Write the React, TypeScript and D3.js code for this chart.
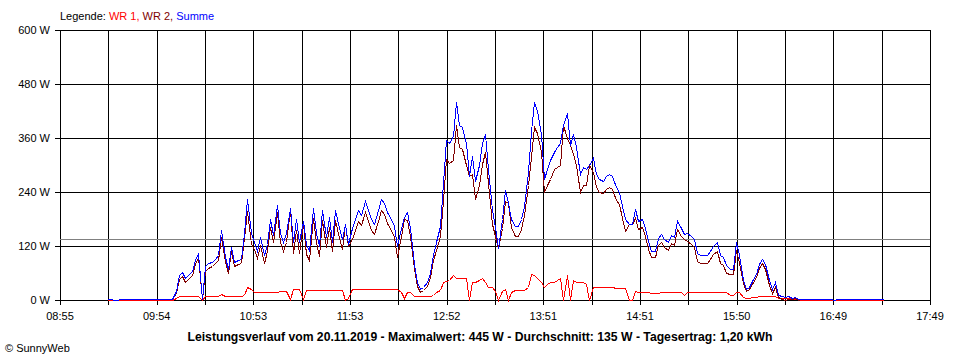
import React from "react";
import * as d3 from "d3";

// time axis: first and last grid label (minutes since midnight) and number of grid steps
const axisStart = 8 * 60 + 55;
const axisEnd = 17 * 60 + 49;
const gridSteps = 18;
const xTickLabels = ["08:55", "09:54", "10:53", "11:53", "12:52", "13:51", "14:51", "15:50", "16:49", "17:49"];
const yTicks = [0, 120, 240, 360, 480, 600];

// samples every 2 minutes starting 09:24
const sampleStart = 9 * 60 + 24;
const sampleStep = 2;

const seriesNames = ["WR 1", "WR 2", "Summe"];

const wr1 = [
  0, 0, 0, 0, 0, 0, 0, 0, 0, 0, 0, 0, 0, 0, 0, 0, 0, 0, 0, 0, 0,
  5, 9, 9, 9, 9, 9, 9, 9, 0, 10,
  10, 10, 10, 10, 14, 10, 10, 10, 10, 10,
  10, 12, 28, 25, 17, 17, 17, 17, 17, 17,
  17, 17, 20, 20, 20, 3, 25, 25, 25, 3,
  22, 22, 22, 22, 22, 22, 22, 22, 22, 22,
  22, 22, 0, 5, 24, 24, 24, 24, 24, 24,
  24, 24, 24, 24, 24, 24, 24, 24, 24, 18,
  5, 18, 18, 8, 8, 8, 8, 8, 8, 12,
  18, 22, 40, 42, 45, 55, 50, 50, 50, 50,
  0, 40, 40, 45, 48, 40, 30, 30, 20, 0,
  20, 25, 0, 18, 22, 22, 22, 22, 30, 58,
  55, 48, 40, 30, 35, 40, 40, 45, 50, 0,
  55, 0, 45, 40, 40, 40, 35, 0, 30, 28,
  28, 28, 28, 28, 28, 27, 27, 27, 27, 0,
  0, 20, 18, 18, 18, 18, 15, 15, 15, 18,
  18, 18, 18, 18, 18, 18, 12, 18, 18, 18,
  18, 18, 18, 18, 18, 18, 18, 18, 18, 18,
  12, 12, 18, 18, 7, 5, 5, 6, 7, 8,
  10, 10, 10, 10, 10, 5, 5, 5, 5, 2,
  2, 2, 0, 0, 0, 0, 0, 0, 0, 0,
  0, 0, 0, 0, 0, 0, 0, 0, 0, 0,
  0, 0, 0, 0, 0, 0, 0, 0,
];

const wr2 = [
  2, 2, 0, 0, 2, 2, 2, 2, 2, 2, 2, 2, 2, 2, 2, 2, 2, 2, 2, 2, 2,
  15, 46, 53, 41, 49, 56, 79, 96, 3, 65,
  72, 75, 82, 90, 141, 85, 60, 108, 75, 80,
  82, 138, 197, 125, 113, 93, 123, 83, 108, 163,
  128, 195, 130, 110, 130, 202, 105, 155, 105, 172,
  103, 88, 183, 128, 98, 178, 118, 163, 108, 178,
  138, 113, 170, 120, 136, 156, 176, 166, 196, 176,
  156, 146, 176, 201, 191, 171, 156, 141, 96, 142,
  180, 177, 142, 72, 32, 17, 22, 32, 52, 88,
  112, 143, 220, 313, 305, 310, 390, 340, 335, 300,
  275, 280, 225, 255, 302, 330, 260, 170, 142, 115,
  160, 220, 215, 162, 143, 143, 158, 188, 255, 317,
  385, 372, 330, 240, 255, 270, 290, 295, 300, 390,
  360, 345, 325, 300, 240, 255, 255, 300, 285, 252,
  240, 237, 247, 252, 247, 223, 213, 183, 153, 170,
  170, 182, 157, 162, 142, 114, 95, 95, 123, 128,
  117, 112, 127, 122, 157, 142, 135, 132, 124, 117,
  86, 82, 82, 82, 92, 102, 110, 82, 77, 60,
  58, 58, 112, 82, 38, 20, 25, 36, 51, 72,
  82, 70, 34, 15, 30, 7, 3, 1, 3, 3,
  5, 1, 2, 2, 2, 3, 2, 2, 2, 2,
  2, 2, 0, 2, 2, 2, 3, 2, 2, 2,
  2, 2, 2, 2, 2, 2, 2, 2,
];

const summe = [
  2, 2, 0, 0, 2, 2, 2, 2, 2, 2, 2, 2, 2, 2, 2, 2, 2, 2, 2, 2, 2,
  20, 55, 62, 50, 58, 65, 88, 105, 3, 75,
  82, 85, 92, 100, 155, 95, 70, 118, 85, 90,
  92, 150, 225, 150, 130, 110, 140, 100, 125, 180,
  145, 212, 150, 130, 150, 205, 130, 180, 130, 175,
  125, 110, 205, 150, 120, 200, 140, 185, 130, 200,
  160, 135, 170, 125, 160, 180, 200, 190, 220, 200,
  180, 170, 200, 225, 215, 195, 180, 165, 120, 160,
  185, 195, 160, 80, 40, 25, 30, 40, 60, 100,
  130, 165, 260, 355, 350, 365, 440, 390, 385, 350,
  275, 320, 265, 300, 350, 370, 290, 200, 162, 115,
  180, 245, 215, 180, 165, 165, 180, 210, 285, 375,
  440, 420, 370, 270, 290, 310, 330, 340, 350, 390,
  415, 345, 370, 340, 280, 295, 290, 300, 315, 280,
  268, 265, 275, 280, 275, 250, 240, 210, 180, 170,
  170, 202, 175, 180, 160, 132, 110, 110, 138, 146,
  135, 130, 145, 140, 175, 160, 147, 150, 142, 135,
  104, 100, 100, 100, 110, 120, 128, 100, 95, 78,
  70, 70, 130, 100, 45, 25, 30, 42, 58, 80,
  92, 80, 44, 25, 40, 12, 8, 6, 8, 5,
  7, 3, 2, 2, 2, 3, 2, 2, 2, 2,
  2, 2, 0, 2, 2, 2, 3, 2, 2, 2,
  2, 2, 2, 2, 2, 2, 2, 2,
];

const average = 135;
const title = "Leistungsverlauf vom 20.11.2019 - Maximalwert: 445 W - Durchschnitt: 135 W - Tagesertrag: 1,20 kWh";

const colors = ["#ff0000", "#800000", "#0000ff"];
const font = "'Liberation Sans', Arial, sans-serif";

export default function App() {
  const width = 960;
  const height = 360;
  const margin = { top: 30, right: 30, bottom: 60, left: 60 };

  const x = d3.scaleLinear().domain([axisStart, axisEnd]).range([margin.left, width - margin.right]);
  const y = d3.scaleLinear().domain([0, 600]).range([height - margin.bottom, margin.top]);

  const gridTimes = d3.range(gridSteps + 1).map((k) => axisStart + (k * (axisEnd - axisStart)) / gridSteps);

  const line = d3
    .line<number>()
    .x((_, i) => Math.round(x(sampleStart + i * sampleStep)) + 0.5)
    .y((d) => Math.round(y(d)) + 0.5);

  const series = [wr1, wr2, summe];
  const px = (v: number) => Math.round(v) + 0.5;

  return (
    <svg
      width={width}
      height={height}
      style={{ position: "absolute", left: 0, top: 0, background: "#fff" }}
      fontFamily={font}
      fontSize={11}
    >
      <text x={60} y={20}>
        <tspan fill="#000">Legende: </tspan>
        {seriesNames.map((name, i) => (
          <tspan key={name} fill={colors[i]}>
            {name}
            {i < seriesNames.length - 1 ? ", " : ""}
          </tspan>
        ))}
      </text>

      {yTicks.map((v) => (
        <g key={"y" + v}>
          <line x1={margin.left - 5} x2={width - margin.right} y1={px(y(v))} y2={px(y(v))} stroke="#000" shapeRendering="crispEdges" />
          <text x={margin.left - 10} y={y(v) + 4} textAnchor="end">
            {v} W
          </text>
        </g>
      ))}

      {gridTimes.map((t, k) => (
        <g key={"x" + k}>
          <line x1={px(x(t))} x2={px(x(t))} y1={margin.top} y2={height - margin.bottom + 5} stroke="#000" shapeRendering="crispEdges" />
          {k % 2 === 0 && (
            <text x={x(t)} y={320} textAnchor="middle">
              {xTickLabels[k / 2]}
            </text>
          )}
        </g>
      ))}

      <line x1={margin.left} x2={width - margin.right} y1={px(y(average))} y2={px(y(average))} stroke="#808080" shapeRendering="crispEdges" />

      {series.map((s, i) => (
        <path key={seriesNames[i]} d={line(s) || ""} fill="none" stroke={colors[i]} strokeWidth={1} shapeRendering="crispEdges" />
      ))}

      <text x={480} y={341} textAnchor="middle" fontWeight="bold" fontSize={12} textLength={585} lengthAdjust="spacingAndGlyphs">
        {title}
      </text>
      <text x={5} y={352}>
        © SunnyWeb
      </text>
    </svg>
  );
}
